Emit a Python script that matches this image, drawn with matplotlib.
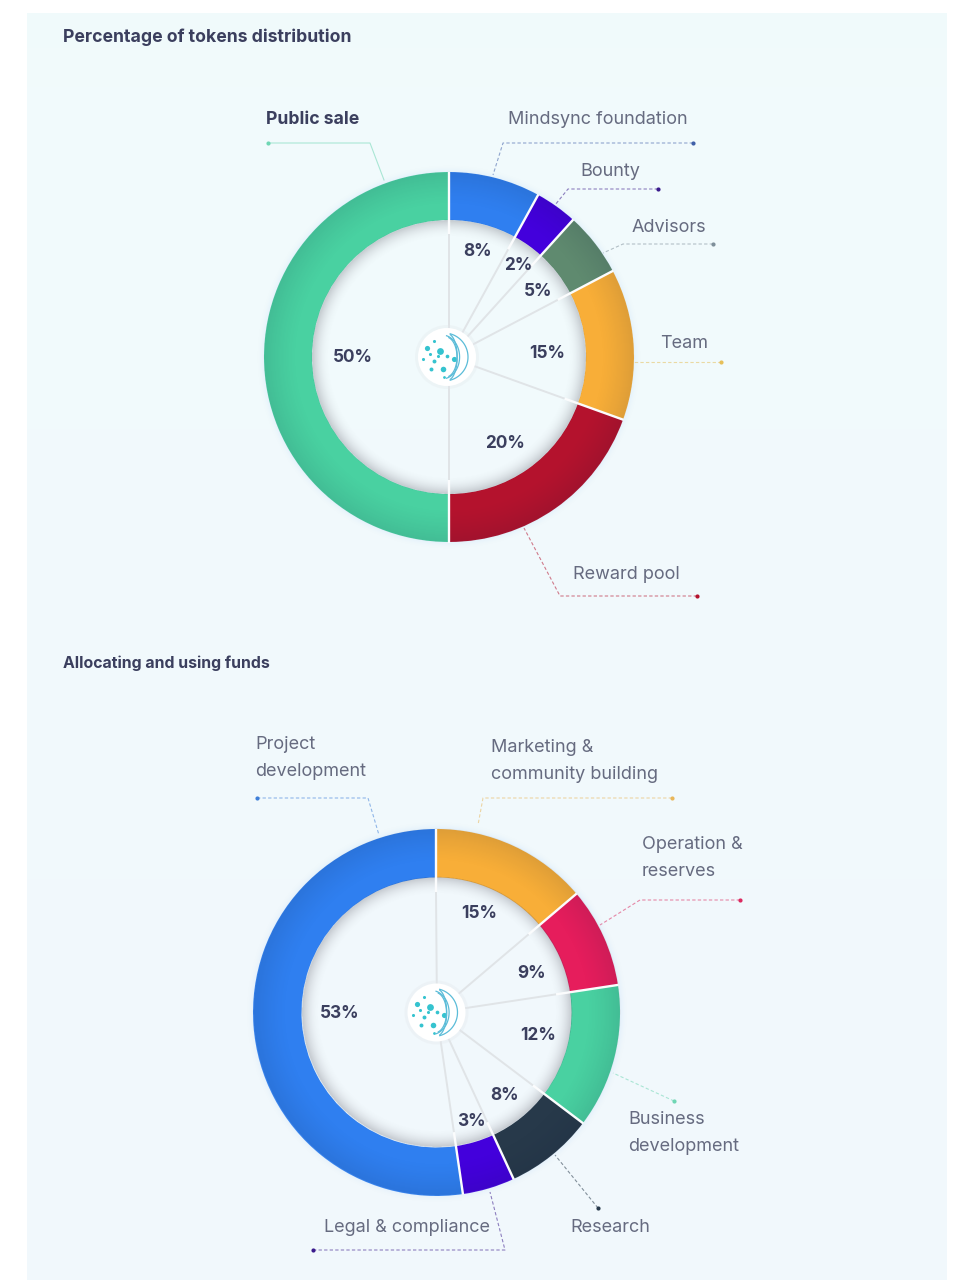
import numpy as np
import matplotlib
matplotlib.use("Agg")
import matplotlib.pyplot as plt
from matplotlib.patches import Circle

W, H = 973, 1280
plt.rcParams['font.family'] = ['Inter', 'DejaVu Sans']

# ---------- data (arc shares measured on the rings, printed labels as shown)
titles = ["Percentage of tokens distribution", "Allocating and using funds"]

token_names = ["Mindsync foundation", "Bounty", "Advisors", "Team", "Reward pool", "Public sale"]
token_shares = [8.0, 3.7, 5.6, 13.2, 19.5, 50.0]
token_labels = ["8%", "2%", "5%", "15%", "20%", "50%"]
token_colors = ["#2f7ff0", "#4300dc", "#5f8a6f", "#f8ae38", "#b4122d", "#49d1a1"]

fund_names = ["Marketing &\ncommunity building", "Operation &\nreserves", "Business\ndevelopment",
              "Research", "Legal & compliance", "Project\ndevelopment"]
fund_shares = [13.8, 8.8, 12.7, 7.8, 4.6, 52.3]
fund_labels = ["15%", "9%", "12%", "8%", "3%", "53%"]
fund_colors = ["#f8ae38", "#e61d5c", "#49d1a1", "#27394a", "#4300dc", "#2f7ff0"]

# ---------- layout, in reference pixels (x right, y down)
TEXT_DARK = "#3b3f5e"
TEXT_SOFT = "#666b80"

token_layout = dict(
    center=(449, 357), r_out=185, r_in=137,
    pct_xy=[(478, 252), (518, 266), (538, 292), (547, 353), (505, 443), (353, 358)],
    name_xy=[(508, 119.5), (580, 172), (632, 227), (660, 344), (573, 574.5), (266, 119.5)],
    leaders=[[(693, 143), (503, 143), (493, 175)],
             [(658, 189), (568, 189), (555, 205)],
             [(713, 244), (623, 244), (603, 253)],
             [(721, 362), (632, 362)],
             [(697, 596), (560, 596), (524, 528)],
             [(268, 143), (370, 143), (384, 180)]],
    solid=[5], bold=[5], leader_colors=["#3f5fa8", "#3a1a8c", "#7f8f9a", "#e6bf5a", "#b4122d", "#6fd6b4"],
)
fund_layout = dict(
    center=(436.5, 1012.5), r_out=183.5, r_in=135,
    pct_xy=[(479, 914), (532, 974), (538, 1036), (505, 1095), (471, 1121), (340, 1013)],
    name_xy=[(491, 761), (642, 858), (628, 1133), (570, 1227.5), (324, 1227.5), (255, 758)],
    leaders=[[(672, 798), (483, 798), (478, 825)],
             [(740, 900), (640, 900), (600, 925)],
             [(674, 1101), (613, 1073)],
             [(598, 1208), (555, 1155)],
             [(313, 1250), (505, 1250), (490, 1192)],
             [(257, 798), (368, 798), (379, 835)]],
    solid=[], bold=[], leader_colors=["#e9b75a", "#dc2a60", "#6fd6b4", "#27394a", "#3a1a8c", "#3f7fd8"],
)

# logo dots relative to the logo centre (decorative mark)
logo_dots = [(-20, -9, 14), (-13, -16, 5), (-7, -6, 24), (-13, 4, 8), (-24, 2, 5), (-16, 12, 8),
             (-4, 12, 16), (0, -1, 7), (7, 2, 14), (-9, -1, 5), (-17, -3, 5), (-3, 20, 4)]

fig = plt.figure(figsize=(W / 100, H / 100), dpi=100, facecolor="white")
ax = fig.add_axes([0, 0, 1, 1])


def Y(y):
    return H - y


# panel background
grad = np.linspace(0, 1, 256)[:, None, None]
top_c = np.array([0.945, 0.984, 0.988])
bot_c = np.array([0.949, 0.973, 0.992])
panel = top_c * (1 - grad) + bot_c * grad
ax.imshow(panel, extent=(27, 947, Y(1280), Y(13)), origin="upper", aspect="auto", zorder=0)


def radial_overlay(cx, cy, r_out, r_in):
    R = int(r_out + 16)
    n = 2 * R * 2
    xs = np.linspace(-R, R, n)
    xx, yy = np.meshgrid(xs, xs)
    r = np.hypot(xx, yy)
    rgba = np.zeros((n, n, 4))
    # hole shadow
    hole = r < r_in
    t = np.clip((r - (r_in - 18)) / 18, 0, 1)
    rgba[hole, :3] = (0.42, 0.42, 0.46)
    rgba[hole, 3] = 0.34 * t[hole] ** 2
    # ring shading: darker toward the outer edge
    ring = (r >= r_in) & (r <= r_out)
    u = (r - r_in) / (r_out - r_in)
    rgba[ring, :3] = (0.05, 0.10, 0.2)
    rgba[ring, 3] = 0.11 * np.clip((u[ring] - 0.3) / 0.7, 0, 1) ** 1.3
    # outer glow
    glow = r > r_out
    v = np.clip(1 - (r - r_out) / 8, 0, 1)
    rgba[glow, :3] = (0.62, 0.78, 0.96)
    rgba[glow, 3] = 0.16 * v[glow] ** 2
    ax.imshow(rgba, extent=(cx - R, cx + R, Y(cy) - R, Y(cy) + R), origin="lower",
              aspect="auto", zorder=3, interpolation="bilinear")


def draw_logo(cx, cy, radius=29):
    cyu = Y(cy)
    ax.add_patch(Circle((cx, cyu), radius + 3, fc="#e4e9ed", ec="none", alpha=0.35, zorder=5))
    ax.add_patch(Circle((cx, cyu), radius, fc="white", ec="none", zorder=6))
    for dx, dy, s in logo_dots:
        ax.scatter(cx + dx, cyu - dy, s=s, color="#35c3cf", linewidths=0, zorder=7)
    t = np.radians(np.linspace(-75, 75, 40))
    for rad, off, squash in [(24, -3, 1.0), (22, -5, 0.8), (20, -1, 0.55), (23, 1, 0.4)]:
        ax.plot(cx + off + rad * squash * np.cos(t), cyu + rad * np.sin(t),
                color="#5bbcd8", lw=0.9, zorder=7)


def draw_donut(shares, colors, labels, names, lay):
    cx, cy = lay["center"]
    ro, ri = lay["r_out"], lay["r_in"]
    ax.pie(shares, colors=colors, center=(cx, Y(cy)), radius=ro, startangle=90, counterclock=False,
           wedgeprops=dict(width=ro - ri, edgecolor="none", zorder=2), normalize=True)
    radial_overlay(cx, cy, ro, ri)
    edges = np.cumsum(shares) / np.sum(shares)
    for e in edges:
        a = 2 * np.pi * e
        sx, sy = np.sin(a), np.cos(a)
        # spoke from the centre to the slice boundary
        ax.plot([cx, cx + (ri - 14) * sx], [Y(cy), Y(cy) + (ri - 14) * sy],
                color="#e0e4e7", lw=1.4, zorder=4, solid_capstyle="butt")
        # white gap that runs on through the ring
        ax.plot([cx + (ri - 14) * sx, cx + (ro + 0.5) * sx], [Y(cy) + (ri - 14) * sy, Y(cy) + (ro + 0.5) * sy],
                color="#fbfcfd", lw=1.7, zorder=4, solid_capstyle="butt")
    draw_logo(cx - 2 if cx > 440 else cx, cy)
    for lab, (px, py) in zip(labels, lay["pct_xy"]):
        ax.text(px, Y(py), lab, ha="center", va="center", fontsize=12.4, fontweight="bold",
                color=TEXT_DARK, zorder=8)
    for i, (name, (nx, ny)) in enumerate(zip(names, lay["name_xy"])):
        b = i in lay["bold"]
        ax.text(nx, Y(ny), name, ha="left", va="center", fontsize=13.0 if not b else 12.7,
                fontweight="bold" if b else "normal", color=TEXT_DARK if b else TEXT_SOFT,
                linespacing=1.78, zorder=8)
    for i, path in enumerate(lay["leaders"]):
        xs = [p[0] for p in path]
        ys = [Y(p[1]) for p in path]
        ax.plot(xs, ys, color=lay["leader_colors"][i], lw=0.8, alpha=0.55, zorder=1.5,
                ls="-" if i in lay["solid"] else (0, (3, 2)))
        ax.scatter(xs[0], ys[0], s=9, color=lay["leader_colors"][i], linewidths=0, zorder=8)


draw_donut(token_shares, token_colors, token_labels, token_names, token_layout)
draw_donut(fund_shares, fund_colors, fund_labels, fund_names, fund_layout)

ax.text(63, Y(37), titles[0], ha="left", va="center", fontsize=12.7, fontweight="bold", color=TEXT_DARK)
ax.text(63, Y(663), titles[1], ha="left", va="center", fontsize=11.4, fontweight="bold", color=TEXT_DARK)

ax.set_xlim(0, W)
ax.set_ylim(0, H)
ax.set_aspect("auto")
ax.axis("off")
fig.savefig("out.png", dpi=100, facecolor="white")
